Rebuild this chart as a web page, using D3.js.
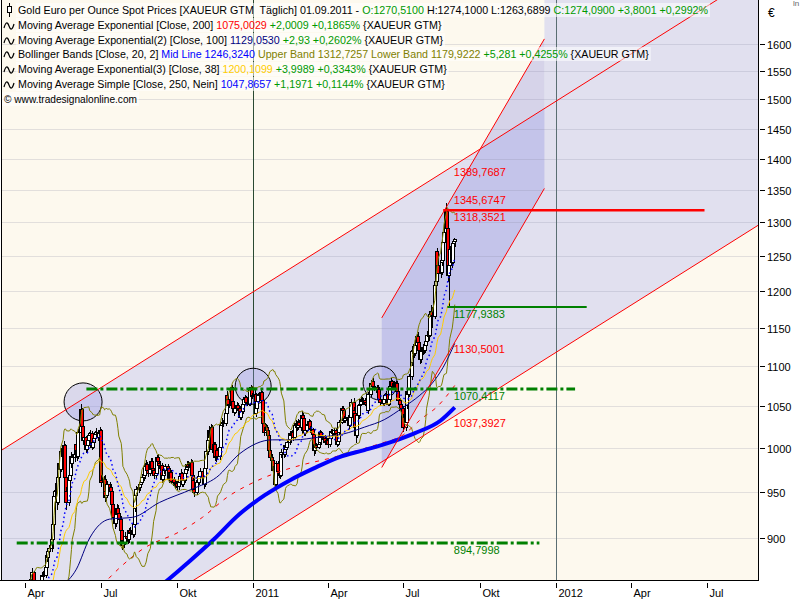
<!DOCTYPE html>
<html><head><meta charset="utf-8"><title>Gold Euro per Ounce Spot Prices</title>
<script src="https://cdn.jsdelivr.net/npm/d3@7/dist/d3.min.js"></script>
<style>html,body{margin:0;padding:0;background:#fff}svg{display:block}text{font-family:"Liberation Sans",Arial,sans-serif;white-space:pre}</style>
</head><body><svg id="chart" width="800" height="600"></svg>
<script>
// ---------------- DATA ----------------
// trading months (weekdays of each month are the candle dates)
const months = ["2010-03","2010-04","2010-05","2010-06","2010-07","2010-08","2010-09","2010-10","2010-11","2010-12",
  "2011-01","2011-02","2011-03","2011-04","2011-05","2011-06","2011-07","2011-08","2011-09"];
// daily closes (EUR per ounce), open = previous close
const closes = [
 [823,826,830,829,835,832,826,812,810,815,808,806,812,818,815,812,815,816,820,822,825,826,828],
 [833,838,842,848,856,858,865,856,848,850,852,845,846,850,855,862,862,870,882,880,886,889],
 [894,898,914,945,950,938,966,982,975,995,990,1002,966,950,938,962,968,990,982,988,992],
 [1004,996,990,1018,1040,1045,1025,1008,1012,998,1002,1008,1014,1016,1000,1006,1010,1015,1018,1012,1016,1020],
 [962,960,964,950,944,946,958,952,955,950,936,922,915,925,932,926,920,908,892,897,895,902],
 [900,898,908,906,905,904,914,932,946,952,955,954,958,960,966,968,978,980,974,970,975,984],
 [976,974,968,970,988,984,982,979,964,968,975,974,978,976,963,965,971,961,963,960,957,959],
 [956,960,967,970,958,962,970,975,980,978,978,983,968,962,952,949,960,962,960,967,973],
 [972,966,958,976,995,1008,1020,1012,1024,998,1003,988,990,996,990,1000,1026,1030,1030,1028,1040,1062],
 [1058,1050,1052,1072,1055,1046,1042,1047,1050,1046,1047,1036,1043,1052,1058,1060,1054,1053,1052,1070,1072,1062,1062],
 [1064,1040,1046,1055,1062,1062,1066,1056,1028,1018,1024,1020,1014,996,988,985,974,978,958,982,972],
 [970,968,992,994,992,1002,998,1000,1006,1009,1016,1014,1018,1012,1026,1028,1024,1030,1026,1024],
 [1038,1034,1016,1020,1027,1026,1031,1022,1021,1015,996,1004,1002,1000,1004,1006,1018,1012,1013,1010,1006,1007,1008],
 [1004,1010,1019,1018,1016,1020,1017,1004,1007,1018,1030,1046,1044,1035,1032,1034,1036,1028,1026,1036,1054],
 [1044,1040,1024,1014,1038,1050,1052,1058,1055,1056,1054,1052,1050,1044,1064,1078,1076,1080,1074,1072,1072,1066],
 [1070,1058,1054,1057,1053,1058,1062,1064,1052,1058,1074,1080,1074,1077,1072,1078,1068,1056,1052,1044,1046,1036],
 [1024,1030,1050,1068,1064,1086,1104,1118,1120,1116,1126,1138,1130,1120,1108,1118,1124,1120,1126,1132,1140],
 [1140,1168,1172,1166,1165,1208,1214,1256,1236,1224,1226,1240,1244,1270,1285,1316,1290,1222,1236,1260,1240,1268,1270.51],
 [1274.09]
];
const highs = [
 [826,830,834,833,838,837,833,827,815,818,816,810,815,821,820,817,818,819,823,826,829,830,831],
 [836,841,845,851,859,862,869,866,858,854,856,854,849,853,858,865,866,873,886,885,890,893],
 [899,903,918,952,960,952,970,988,986,999,1000,1008,1004,972,955,966,975,994,995,993,996],
 [1008,1007,999,1022,1044,1052,1047,1027,1016,1014,1006,1012,1018,1021,1019,1009,1014,1019,1023,1021,1019,1024],
 [1022,968,967,968,954,950,962,961,959,958,953,939,926,929,936,935,929,923,911,901,902,906],
 [906,904,911,912,910,909,917,936,950,956,959,959,961,964,970,972,982,986,983,977,979,988],
 [988,980,977,973,991,992,987,985,982,972,979,979,981,981,979,968,974,974,966,966,963,962],
 [962,963,970,975,972,965,973,979,984,984,982,987,986,970,965,956,963,966,965,970,977],
 [977,975,969,980,999,1012,1026,1022,1028,1027,1007,1006,994,999,999,1004,1030,1035,1034,1033,1044,1066],
 [1068,1062,1056,1076,1075,1058,1050,1050,1054,1053,1050,1049,1046,1055,1061,1063,1062,1057,1056,1073,1076,1074,1066],
 [1070,1066,1050,1058,1065,1066,1070,1068,1058,1032,1028,1027,1023,1016,999,992,988,982,980,985,985],
 [976,974,995,998,997,1005,1004,1003,1009,1012,1019,1019,1021,1020,1029,1032,1031,1034,1033,1029],
 [1044,1041,1036,1023,1030,1030,1034,1033,1025,1023,1017,1008,1007,1005,1007,1009,1021,1020,1016,1015,1012,1010,1011],
 [1011,1013,1022,1022,1021,1023,1023,1019,1010,1021,1033,1050,1049,1046,1037,1037,1039,1038,1031,1039,1058],
 [1060,1048,1043,1028,1041,1054,1056,1062,1061,1059,1059,1057,1055,1053,1067,1082,1081,1084,1082,1077,1076,1075],
 [1074,1072,1061,1060,1060,1061,1065,1068,1066,1061,1077,1084,1082,1080,1079,1081,1080,1070,1059,1054,1050,1049],
 [1040,1034,1053,1072,1071,1090,1110,1126,1128,1124,1130,1142,1144,1133,1124,1121,1128,1128,1130,1136,1146],
 [1150,1172,1180,1178,1176,1212,1240,1262,1262,1244,1232,1246,1250,1274,1290,1330,1318,1294,1246,1264,1262,1272,1276],
 [1274.10]
];
const lows = [
 [818,821,824,825,828,829,823,809,806,808,804,802,805,810,812,808,810,812,814,818,820,822,824],
 [826,830,835,839,845,852,855,852,845,845,847,842,841,843,848,852,858,859,867,875,877,882],
 [885,888,894,910,936,930,935,962,970,972,984,986,962,944,930,934,955,962,976,978,983],
 [988,992,985,987,1014,1035,1021,1003,1004,994,995,998,1004,1010,997,998,1003,1006,1011,1008,1009,1012],
 [958,955,956,946,939,940,943,949,948,945,932,918,910,912,921,922,916,905,888,889,890,893],
 [896,894,895,902,901,900,901,911,928,942,948,950,951,954,957,962,964,974,970,966,967,972],
 [972,970,964,965,968,980,978,975,960,961,965,970,971,972,960,959,962,958,957,956,953,954],
 [952,952,957,964,955,955,959,967,972,974,973,975,964,958,948,944,946,956,956,957,963],
 [968,962,953,955,972,991,1004,1008,1009,994,994,984,983,986,986,986,997,1022,1025,1024,1025,1036],
 [1053,1046,1047,1049,1052,1041,1038,1040,1044,1042,1043,1033,1033,1040,1049,1055,1051,1049,1049,1050,1066,1058,1058],
 [1058,1036,1036,1042,1052,1057,1059,1052,1024,1013,1015,1016,1010,992,984,980,970,971,952,956,968],
 [965,964,966,988,988,989,995,995,998,1003,1006,1010,1011,1008,1010,1022,1020,1021,1023,1020],
 [1021,1031,1013,1013,1017,1022,1023,1019,1017,1012,990,993,998,996,998,1002,1003,1009,1009,1006,1003,1003,1004],
 [1000,1001,1008,1014,1013,1013,1014,1001,1002,1005,1015,1028,1040,1032,1029,1029,1031,1025,1021,1024,1034],
 [1040,1036,1018,1005,1011,1034,1047,1049,1052,1051,1050,1048,1046,1040,1042,1061,1072,1072,1071,1068,1068,1062],
 [1062,1055,1050,1051,1049,1050,1055,1059,1049,1049,1055,1070,1070,1071,1068,1069,1065,1053,1048,1040,1040,1030],
 [1018,1020,1027,1046,1060,1061,1082,1100,1112,1110,1112,1122,1126,1114,1102,1104,1114,1115,1116,1120,1128],
 [1132,1138,1164,1158,1150,1162,1188,1210,1226,1212,1218,1222,1236,1240,1264,1282,1282,1212,1178,1230,1232,1238,1262],
 [1263.69]
];
// long moving averages
const ema200Pts = [["2010-06-01",822],["2010-07-01",850],["2010-07-25",870],["2010-08-20",888],["2010-10-05",907],["2010-11-01",922],
  ["2010-12-01",944],["2011-01-01",960],["2011-02-01",972],["2011-03-01",980],["2011-04-01",987],["2011-05-01",995],["2011-06-01",1004],
  ["2011-07-01",1015],["2011-07-24",1035],["2011-08-10",1048],["2011-09-01",1075.0029]];
const ema100Pts = [["2010-04-15",828],["2010-05-15",850],["2010-06-02",868],["2010-06-18",900],["2010-07-12",920],["2010-08-09",922],
  ["2010-09-10",938],["2010-10-20",953],["2010-11-18",966],["2010-12-16",993],["2011-01-24",1009],["2011-02-20",1009],["2011-03-20",1012],
  ["2011-04-20",1016],["2011-05-15",1024],["2011-06-08",1033],["2011-07-01",1048],["2011-07-20",1062],["2011-08-05",1078],
  ["2011-08-18",1098],["2011-09-01",1129.053]];
const sma250Pts = [["2010-07-15",815],["2010-08-15",835],["2010-09-20",857],["2010-10-15",875],["2010-11-15",899],["2010-12-15",925],
  ["2011-01-15",946],["2011-02-15",963],["2011-03-15",976],["2011-04-15",989],["2011-05-15",997],["2011-06-15",1006],["2011-07-15",1017],
  ["2011-08-15",1032],["2011-09-01",1047.8657]];
// trend channels (two anchor points each: date, price)
const bigUpper = [["2010-06-08",1057],["2011-09-01",1389.7687]];
const bigLower = [["2011-01-01",895],["2011-09-01",1037.3927]];
const steepUpper = [["2011-06-05",1163],["2011-09-01",1345.6747]];
const steepLower = [["2011-06-05",977],["2011-09-01",1130.5001]];
const steepSpan = ["2011-06-05","2011-12-18"];
// horizontal levels
const dashLevels = [1070.4117, 894.7998];
const dashSpans = [["2010-06-14","2012-01-24"],["2010-03-22","2011-12-12"]];
const solidLevels = [1318.3521, 1177.9383];
const solidSpans = [["2011-08-18","2012-06-28"],["2011-08-23","2012-02-07"]];
const labelValues = [1389.7687,1345.6747,1318.3521,1177.9383,1130.5001,1070.4117,1037.3927,894.7998];
const labelKinds = ["channel","channel","resistance","support","channel","support","channel","support"];
// marked tops
const circleCenters = [["2010-06-10",1054.6],["2011-01-01",1074],["2011-06-03",1078]];
const yearMarks = ["2011-01-01","2012-01-01"];
// axes
const yTicks = [900,950,1000,1050,1100,1150,1200,1250,1300,1350,1400,1450,1500,1550,1600];
const xTickDates = ["2010-04-01","2010-07-01","2010-10-01","2011-01-01","2011-04-01","2011-07-01","2011-10-01","2012-01-01","2012-04-01","2012-07-01"];
const xTickLabels = ["Apr","Jul","Okt","2011","Apr","Jul","Okt","2012","Apr","Jul"];

// ---------------- CHART ----------------
const svg = d3.select("#chart");
const P = {l:2, r:758, t:0, b:580};
const parse = d3.timeParse("%Y-%m-%d");
const parseM = d3.timeParse("%Y-%m");
const x = d3.scaleTime().domain([new Date(2010,3,1), new Date(2012,6,1)]).range([25,707]);
const y = d3.scaleLog().domain([1600,900]).range([44,538]);

const C = {black:"#000", green:"#009900", dgreen:"#008000", red:"#FF0000", navy:"#000080", blue:"#0000FF", olive:"#808000", gold:"#FFCC00"};

svg.append("rect").attr("width",800).attr("height",600).attr("fill","#fff");
svg.append("rect").attr("x",P.l).attr("y",P.t).attr("width",P.r-P.l).attr("height",P.b-P.t).attr("fill","#FDF9EE");
svg.append("defs").append("clipPath").attr("id","clip").append("rect")
  .attr("x",P.l).attr("y",P.t).attr("width",P.r-P.l).attr("height",P.b-P.t);
const g = svg.append("g").attr("clip-path","url(#clip)");

function pt(p){ return [x(parse(p[0])), y(p[1])]; }
function lineY(a, px){ const p0=pt(a[0]), p1=pt(a[1]); return p0[1]+(p1[1]-p0[1])*(px-p0[0])/(p1[0]-p0[0]); }
const xS = x(parse(steepSpan[0])), xE = x(parse(steepSpan[1]));

// channel fills
g.append("path").attr("fill","#E1E0EF").attr("d", d3.line()([
  [0,lineY(bigUpper,0)],[xE,lineY(bigUpper,xE)],[xE,0],[P.r,0],[P.r,lineY(bigLower,P.r)],[0,lineY(bigLower,0)]])+"Z");
g.append("path").attr("fill","rgba(150,150,225,0.38)").attr("d", d3.line()([
  [xS,lineY(steepUpper,xS)],[xE,lineY(steepUpper,xE)],[xE,lineY(steepLower,xE)],[xS,lineY(steepLower,xS)]])+"Z");

// grid
yTicks.forEach(v=>{
  const yy = Math.round(y(v))+0.5;
  g.append("line").attr("x1",P.l).attr("x2",P.r).attr("y1",yy).attr("y2",yy).attr("stroke","rgba(130,130,160,0.22)");
});
// year separators
yearMarks.forEach((d,i)=>{
  const xx = Math.round(x(parse(d)))+0.5;
  g.append("line").attr("x1",xx).attr("x2",xx).attr("y1",P.t).attr("y2",P.b).attr("stroke", i===0?"#2A4A32":"#5A6E72");
});
// circles
const radii = [19,18,17];
circleCenters.forEach((c,i)=>{
  const p = pt(c);
  g.append("circle").attr("cx",p[0]).attr("cy",p[1]).attr("r",radii[i]).attr("fill","rgba(150,150,230,0.33)").attr("stroke","#000");
});

// candles
function weekdays(key){ const s=parseM(key), e=d3.timeMonth.offset(s,1); return d3.timeDay.range(s,e).filter(d=>d.getDay()%6!==0); }
const candles = []; let prev = null;
months.forEach((m,i)=>{
  const days = weekdays(m);
  closes[i].forEach((c,j)=>{
    const o = prev==null ? c : prev;
    candles.push({date:days[j], o, h:highs[i][j], l:lows[i][j], c});
    prev = c;
  });
});
const cg = g.append("g").attr("shape-rendering","crispEdges");
candles.forEach(d=>{
  const r = Math.round(x(d.date));
  const top = y(Math.max(d.o,d.c,d.h)), bot = y(Math.min(d.o,d.c,d.l));
  cg.append("line").attr("x1",r+0.5).attr("x2",r+0.5).attr("y1",top).attr("y2",bot).attr("stroke","#000");
  const y1 = y(Math.max(d.o,d.c)), y2 = y(Math.min(d.o,d.c));
  cg.append("rect").attr("x",r-1.5).attr("width",3).attr("y",y1).attr("height",Math.max(1,y2-y1))
    .attr("fill", d.c>=d.o ? "#fff" : "#f00").attr("stroke","#000");
});

// indicators computed from closes
const a38 = 2/39; let e = null;
const ema38 = candles.map(d=>{ e = e==null ? d.c : a38*d.c+(1-a38)*e; return {date:d.date, v:e}; });
const bb = [];
candles.forEach((d,i)=>{
  if(i<19) return;
  const win = candles.slice(i-19,i+1).map(q=>q.c);
  const m = d3.mean(win), sd = Math.sqrt(d3.mean(win.map(v=>(v-m)*(v-m))));
  bb.push({date:d.date, mid:m, up:m+2*sd, lo:m-2*sd});
});
const ln = (acc)=>d3.line().x(d=>x(d.date)).y(d=>y(acc(d)));
const ptsLine = d3.line().x(d=>x(parse(d[0]))).y(d=>y(d[1])).curve(d3.curveMonotoneX);

g.append("path").attr("d",ptsLine(ema200Pts)).attr("fill","none").attr("stroke",C.red).attr("stroke-dasharray","4,6");
g.append("path").attr("d",ln(d=>d.up)(bb)).attr("fill","none").attr("stroke",C.olive);
g.append("path").attr("d",ln(d=>d.lo)(bb)).attr("fill","none").attr("stroke",C.olive);
g.append("path").attr("d",ptsLine(ema100Pts)).attr("fill","none").attr("stroke",C.navy);
g.append("path").attr("d",ln(d=>d.v)(ema38)).attr("fill","none").attr("stroke",C.gold);
g.append("path").attr("d",ln(d=>d.mid)(bb)).attr("fill","none").attr("stroke",C.blue).attr("stroke-width",1.5).attr("stroke-dasharray","1.5,3");
g.append("path").attr("d",ptsLine(sma250Pts)).attr("fill","none").attr("stroke",C.blue).attr("stroke-width",4);

// channel lines
[bigUpper,bigLower].forEach(a=>{
  g.append("line").attr("x1",0).attr("y1",lineY(a,0)).attr("x2",P.r).attr("y2",lineY(a,P.r)).attr("stroke",C.red);
});
[steepUpper,steepLower].forEach(a=>{
  g.append("line").attr("x1",xS).attr("y1",lineY(a,xS)).attr("x2",xE).attr("y2",lineY(a,xE)).attr("stroke",C.red);
});
// horizontal levels
dashLevels.forEach((v,i)=>{
  const yy = y(v);
  g.append("line").attr("x1",x(parse(dashSpans[i][0]))).attr("x2",x(parse(dashSpans[i][1]))).attr("y1",yy).attr("y2",yy)
    .attr("stroke",C.dgreen).attr("stroke-width",3).attr("stroke-dasharray","11,3,3,3");
});
solidLevels.forEach((v,i)=>{
  const yy = y(v);
  g.append("line").attr("x1",x(parse(solidSpans[i][0]))).attr("x2",x(parse(solidSpans[i][1]))).attr("y1",yy).attr("y2",yy)
    .attr("stroke", i===0?C.red:C.dgreen).attr("stroke-width", i===0?2.5:2);
});
// value labels
const fmt4 = v=>d3.format(".4f")(v).replace(".",",");
const xLast = x(candles[candles.length-1].date);
labelValues.forEach((v,i)=>{
  g.append("text").attr("x",xLast-1).attr("y",y(v)+11).attr("font-size",11)
    .attr("fill", labelKinds[i]==="support"?C.dgreen:C.red).text(fmt4(v));
});

// axes
svg.append("line").attr("x1",P.r+0.5).attr("x2",P.r+0.5).attr("y1",0).attr("y2",P.b+1).attr("stroke","#000");
svg.append("line").attr("x1",0).attr("x2",P.r+1).attr("y1",P.b+0.5).attr("y2",P.b+0.5).attr("stroke","#000");
svg.append("line").attr("x1",1.5).attr("x2",1.5).attr("y1",0).attr("y2",P.b).attr("stroke","#000");
yTicks.forEach(v=>{
  const yy = Math.round(y(v))+0.5;
  svg.append("line").attr("x1",760).attr("x2",765).attr("y1",yy).attr("y2",yy).attr("stroke","#000");
  svg.append("text").attr("x",767).attr("y",yy+4).attr("font-size",11).attr("fill","#000").text(v);
});
svg.append("text").attr("x",768).attr("y",17).attr("font-size",12).attr("fill","#000").text("€");
svg.append("text").attr("x",793).attr("y",6).attr("font-size",8).attr("fill","#666").text("ln");
xTickDates.forEach((d,i)=>{
  const xx = Math.round(x(parse(d)))+0.5;
  svg.append("line").attr("x1",xx).attr("x2",xx).attr("y1",583).attr("y2",588).attr("stroke","#000");
  svg.append("text").attr("x",xx+2).attr("y",597).attr("font-size",11).attr("fill","#000").text(xTickLabels[i]);
});

// legend
const legendRows = [
  [["Gold Euro per Ounce Spot Prices [XAUEUR GTM  Täglich] 01.09.2011 - ",C.black],["O:1270,5100",C.green],[" H:1274,1000 L:1263,6899 ",C.black],["C:1274,0900 +3,8001 +0,2992%",C.green]],
  [["Moving Average Exponential [Close, 200] ",C.black],["1075,0029",C.red],[" +2,0009 +0,1865%",C.green],[" {XAUEUR GTM}",C.black]],
  [["Moving Average Exponential(2) [Close, 100] ",C.black],["1129,0530",C.navy],[" +2,93 +0,2602%",C.green],[" {XAUEUR GTM}",C.black]],
  [["Bollinger Bands [Close, 20, 2] ",C.black],["Mid Line 1246,3240",C.blue],[" Upper Band 1312,7257 Lower Band 1179,9222",C.olive],[" +5,281 +0,4255%",C.green],[" {XAUEUR GTM}",C.black]],
  [["Moving Average Exponential(3) [Close, 38] ",C.black],["1200,1099",C.gold],[" +3,9989 +0,3343%",C.green],[" {XAUEUR GTM}",C.black]],
  [["Moving Average Simple [Close, 250, Nein] ",C.black],["1047,8657",C.blue],[" +1,1971 +0,1144%",C.green],[" {XAUEUR GTM}",C.black]],
  [["© www.tradesignalonline.com",C.black]]
];
const rowY = [10,25,40,54,69,84,99];
const rowStart = [18,18,18,18,18,18,4];
const rowEnd = [708,442,443,649,447,445,137];
legendRows.forEach((segs,i)=>{
  const cy = rowY[i];
  const bg = svg.append("rect").attr("x",rowStart[i]-2).attr("y",cy-7).attr("width",rowEnd[i]-rowStart[i]+4).attr("height",14)
    .attr("fill","#fff").attr("opacity",0.55);
  if(i===0){
    svg.append("line").attr("x1",9.5).attr("x2",9.5).attr("y1",cy-7).attr("y2",cy+7).attr("stroke","#000");
    svg.append("rect").attr("x",7.5).attr("y",cy-3.5).attr("width",4).attr("height",6).attr("fill","#fff").attr("stroke","#000");
  } else if(i<6){
    svg.append("path").attr("d",`M4,${cy+3} q2.5,-9 5,-2 t5,-2`).attr("fill","none").attr("stroke","#000").attr("stroke-width",1.2);
  }
  const t = svg.append("text").attr("x",rowStart[i]).attr("y",cy+4).attr("font-size",11);
  segs.forEach(s=>t.append("tspan").attr("fill",s[1]).text(s[0]));
  // fit the row to the reference width by scaling the font size (keeps glyph proportions)
  const natural = t.node().getComputedTextLength();
  const fs = Math.max(9.5, Math.min(12, 11*(rowEnd[i]-rowStart[i])/natural));
  t.attr("font-size", fs.toFixed(2));
  const w = t.node().getComputedTextLength();
  bg.attr("width", w+4);
});
</script></body></html>
